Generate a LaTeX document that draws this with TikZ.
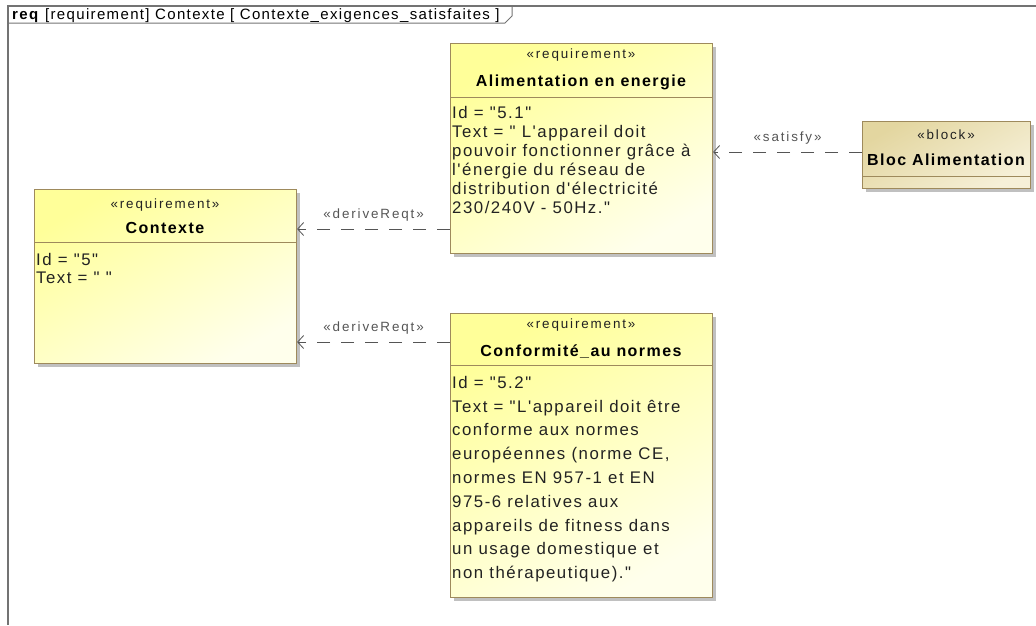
\documentclass[tikz,border=0pt]{standalone}
\usepackage{fontspec}
\setmainfont{Liberation Sans}
\newfontfamily\umlf[LetterSpace=9]{Liberation Sans}
\newfontfamily\umlst[LetterSpace=14]{Liberation Sans}
\usetikzlibrary{arrows.meta,shadows}
\definecolor{reqTop}{HTML}{FFFF99}
\definecolor{reqBot}{HTML}{FFFFEC}
\definecolor{blkTop}{HTML}{E3D6A0}
\definecolor{blkBot}{HTML}{F6F0D8}
\definecolor{bord}{HTML}{9E8A5C}
\definecolor{conn}{HTML}{555555}
\definecolor{txt}{HTML}{222222}
\tikzset{
  boxshadow/.style={drop shadow={shadow xshift=3pt,shadow yshift=-3pt,fill=black!45,opacity=0.55}},
  reqbox/.style={draw=bord,line width=1.1pt,top color=reqTop,bottom color=reqBot,shading angle=30,
     inner sep=0pt,anchor=north west,boxshadow},
  blkbox/.style={draw=bord,line width=1.1pt,top color=blkTop,bottom color=blkBot,shading angle=30,
     inner sep=0pt,anchor=north west,boxshadow},
  sepline/.style={draw=bord,line width=0.9pt},
  stereo/.style={font=\umlst\fontsize{13.4}{15}\selectfont,text=txt,inner sep=0pt},
  title/.style={font=\umlf\bfseries\fontsize{16}{18}\selectfont,text=black,inner sep=0pt},
  body/.style={font=\umlf\fontsize{16.8}{19}\selectfont,text=txt,inner sep=0pt,align=left,anchor=north west},
  dep/.style={draw=conn,line width=0.8pt,dash pattern=on 13pt off 11pt,-{Straight Barb[length=6pt,width=13pt]}},
  deplabel/.style={font=\umlst\fontsize{13.4}{15}\selectfont,text=conn,inner sep=0pt},
  framel/.style={draw=black!55,line width=1.3pt}
}
\begin{document}
\begin{tikzpicture}[x=1pt,y=-1pt]
\useasboundingbox (0,0) rectangle (1036,625);
% frame
\coordinate (fTL) at (8,6);
\coordinate (fTR) at (1036,6);
\coordinate (fBL) at (8,625);
\draw[framel] (fTR) -- (fTL) -- (fBL);
\draw[framel,line width=1pt] (8,23) -- (505,23) -- (512,16) -- (512,6);
\node[anchor=base west,inner sep=0pt,font=\umlf\fontsize{15}{16}\selectfont] (ftitle) at (12,19.5)
  {\textbf{req} [requirement] Contexte [ Contexte\_exigences\_satisfaites ]};

% Contexte
\node[reqbox,minimum width=262pt,minimum height=174pt] (ctx) at (34,189) {};
\draw[sepline] (ctx.west |- 0,242) -- (ctx.east |- 0,242);
\node[stereo] (ctxs) at (165,205) {«requirement»};
\node[title] (ctxt) at (165,228) {Contexte};
\node[body,font=\umlf\fontsize{16.8}{18}\selectfont] (ctxb) at (36,253) {Id = "5"\\Text = " "};

% Alimentation
\node[reqbox,minimum width=262pt,minimum height=210pt] (alim) at (450,43) {};
\draw[sepline] (alim.west |- 0,97) -- (alim.east |- 0,97);
\node[stereo] (alims) at (581,55) {«requirement»};
\node[title] (alimt) at (581,82) {Alimentation en energie};
\node[body] (alimb) at (452,106) {Id = "5.1"\\Text = " L'appareil doit\\pouvoir fonctionner grâce à\\l'énergie du réseau de\\distribution d'électricité\\230/240V - 50Hz."};

% Conformite
\node[reqbox,minimum width=262pt,minimum height=284pt] (conf) at (450,313) {};
\draw[sepline] (conf.west |- 0,365) -- (conf.east |- 0,365);
\node[stereo] (confs) at (581,325) {«requirement»};
\node[title] (conft) at (581,352) {Conformité\_au normes};
\node[body,font=\umlf\fontsize{16.8}{23.8}\selectfont] (confb) at (452,376) {Id = "5.2"\\Text = "L'appareil doit être\\conforme aux normes\\européennes (norme CE,\\normes EN 957-1 et EN\\975-6 relatives aux\\appareils de fitness dans\\un usage domestique et\\non thérapeutique)."};

% Bloc
\node[blkbox,minimum width=168pt,minimum height=67pt] (bloc) at (862,121) {};
\draw[sepline] (bloc.west |- 0,176) -- (bloc.east |- 0,176);
\node[stereo] (blocs) at (946,135) {«block»};
\node[title] (bloct) at (946,160) {Bloc Alimentation};

% connectors
\draw[dep] (alim.west |- 0,229) -- node[deplabel,above=7pt] (l1) {«deriveReqt»} (ctx.east |- 0,229);
\draw[dep] (conf.west |- 0,342) -- node[deplabel,above=7pt] (l2) {«deriveReqt»} (ctx.east |- 0,342);
\draw[dep] (bloc.west |- 0,152) -- node[deplabel,above=7pt] (l3) {«satisfy»} (alim.east |- 0,152);
\end{tikzpicture}
\end{document}
